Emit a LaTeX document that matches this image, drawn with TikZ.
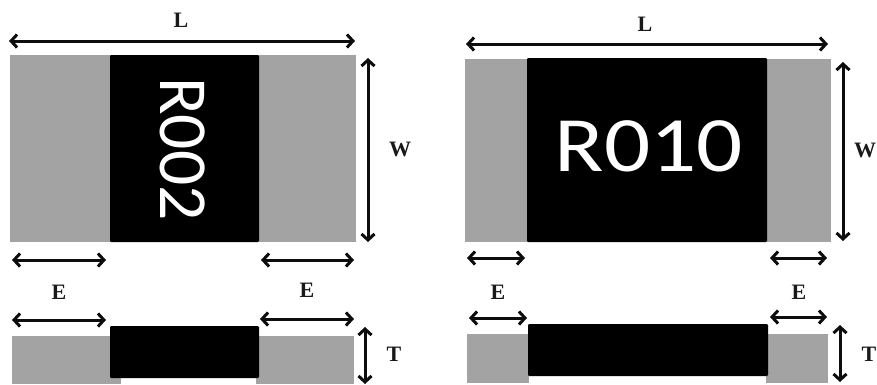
\documentclass[tikz,border=0pt]{standalone}
\usepackage{fontspec}
\usetikzlibrary{arrows.meta}
\setmainfont{Liberation Serif}
\newfontfamily\chipfont{Carlito}
\definecolor{padgray}{HTML}{A3A3A3}
\tikzset{
  x=1pt,y=-1pt,
  pad/.style={fill=padgray,draw=none},
  body/.style={fill=black,draw=none,rounded corners=1.2pt},
  dim/.style={line width=3pt,black!95,{Straight Barb[length=6pt,width=13pt,line width=3pt]}-{Straight Barb[length=6pt,width=13pt,line width=3pt]}},
  lab/.style={font=\fontsize{22}{22}\selectfont\bfseries,inner sep=0pt,text=black!90},
  chip/.style={font=\chipfont\fontsize{80}{80}\selectfont,text=white,inner sep=0pt}
}
\begin{document}
\begin{tikzpicture}
\useasboundingbox (0,0) rectangle (877,384);
\clip (0,0) rectangle (877,384);
% left top view
\fill[pad] (10,55) rectangle (356,242);
\fill[body] (110,55) rectangle (259,242);
\node[chip,rotate=-90,xscale=.87,yscale=.86] (r1) at (183,149) {R002};
% left side view
\fill[pad] (12,336) rectangle (354,384);
\fill[white] (121,370) rectangle (256,384);
\fill[body] (110,326) rectangle (259,378);
% right top view
\fill[pad] (465,59) rectangle (831,242);
\fill[body] (527,58) rectangle (767,242);
\node[chip,xscale=1.14,yscale=.98] (r2) at (649,146) {R010};
% right side view
\fill[pad] (467,334) rectangle (828,383);
\fill[white] (529,370) rectangle (766,384);
\fill[body] (528,324) rectangle (768,376);
% labels
\node[lab] (l1) at (181,20) {L};
\node[lab] (w1) at (400,149) {W};
\node[lab] (e1) at (59,292) {E};
\node[lab] (e2) at (307,290) {E};
\node[lab] (t1) at (394,354) {T};
\node[lab] (l2) at (645,24) {L};
\node[lab] (w2) at (865,150) {W};
\node[lab] (e3) at (498,292) {E};
\node[lab] (e4) at (799,292) {E};
\node[lab] (t2) at (869,354) {T};
% dimension end points
\coordinate (a1) at (9,41); \coordinate (a2) at (355,41);
\coordinate (b1) at (368,58); \coordinate (b2) at (368,242);
\coordinate (c1) at (12,260); \coordinate (c2) at (106,260);
\coordinate (d1) at (261,260); \coordinate (d2) at (354,260);
\coordinate (f1) at (12,320); \coordinate (f2) at (106,320);
\coordinate (g1) at (260,319); \coordinate (g2) at (354,319);
\coordinate (h1) at (365,327); \coordinate (h2) at (365,384);
\coordinate (i1) at (466,44); \coordinate (i2) at (828,44);
\coordinate (j1) at (843,62); \coordinate (j2) at (843,241);
\coordinate (k1) at (467,258); \coordinate (k2) at (525,258);
\coordinate (m1) at (770,258); \coordinate (m2) at (827,258);
\coordinate (n1) at (469,318); \coordinate (n2) at (527,318);
\coordinate (o1) at (770,317); \coordinate (o2) at (827,317);
\coordinate (p1) at (840,325); \coordinate (p2) at (840,382);
\foreach \s/\e in {a1/a2,b1/b2,c1/c2,d1/d2,f1/f2,g1/g2,h1/h2,i1/i2,j1/j2,k1/k2,m1/m2,n1/n2,o1/o2,p1/p2}
  \draw[dim] (\s) -- (\e);
\end{tikzpicture}
\end{document}
